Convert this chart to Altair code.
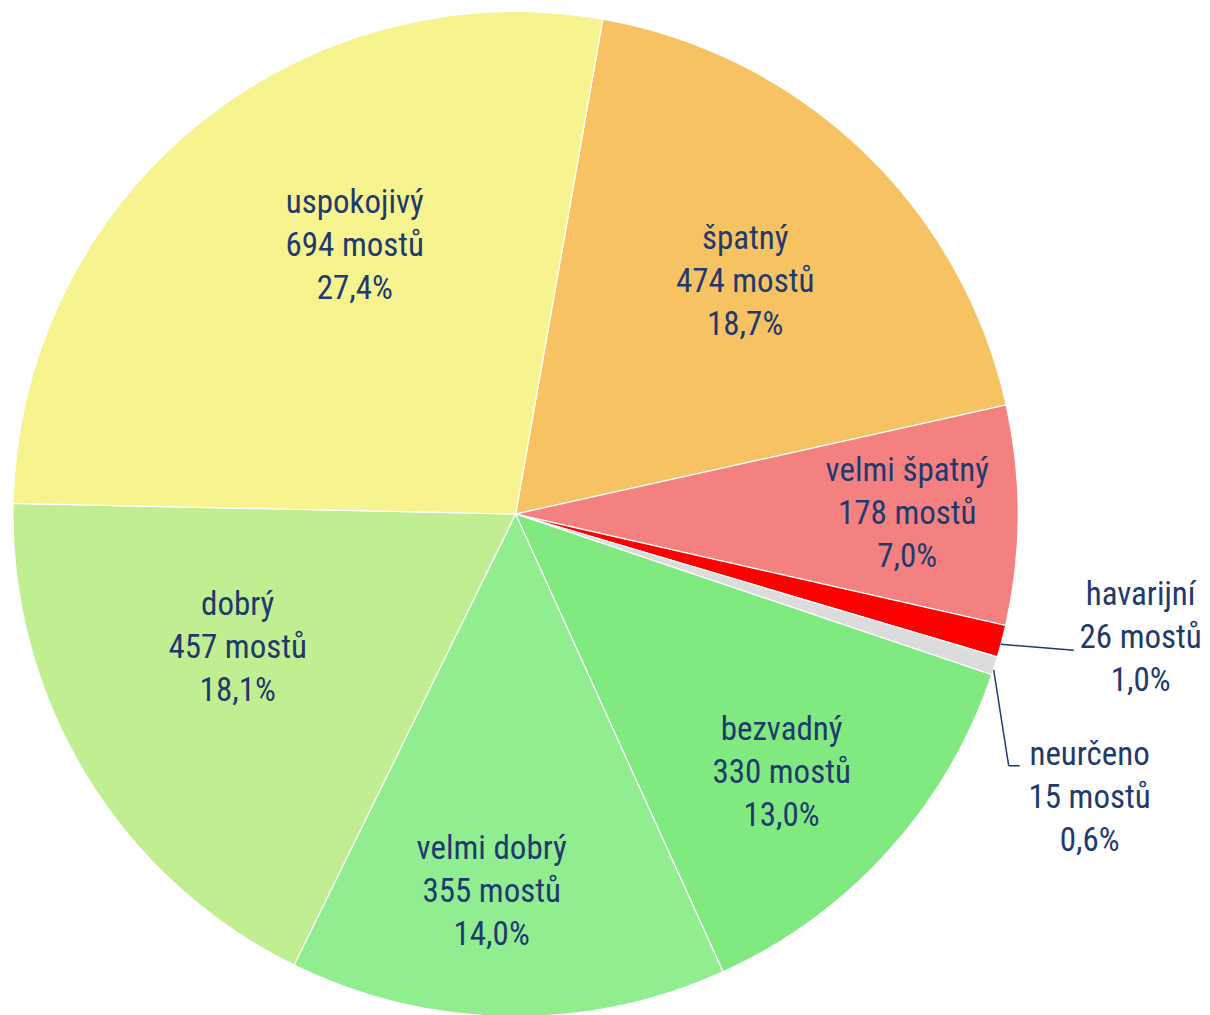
import altair as alt
import numpy as np
import pandas as pd

# ---- data ----
categories = ["špatný", "velmi špatný", "havarijní", "neurčeno",
              "bezvadný", "velmi dobrý", "dobrý", "uspokojivý"]
counts = [474, 178, 26, 15, 330, 355, 457, 694]
percents = ["18,7%", "7,0%", "1,0%", "0,6%", "13,0%", "14,0%", "18,1%", "27,4%"]
colors = ["#F6C262", "#F48080", "#FF0000", "#DCDCDC",
          "#80E980", "#90EE90", "#C1EE91", "#F7F48F"]

# ---- layout / style ----
CX, CY = 508, 505          # pie centre inside the view
R = 503                    # pie radius
START = np.deg2rad(10)     # first slice starts 10° clockwise from 12 o'clock
TXT = "#1F3A6E"
FONT = "Liberation Sans Narrow, Arial Narrow, Roboto Condensed, DejaVu Sans Condensed, sans-serif"
FS = 33
LH = 43

# label placement: (radius along slice mid-angle, dx, dy)
label_pos = {
    "špatný":       (315, 12, -5),
    "velmi špatný": (382, 10, -1),
    "havarijní":    (R, 139, -3),
    "neurčeno":     (R, 95, 132),
    "bezvadný":     (382, -17, 3),
    "velmi dobrý":  (382, -18, -4),
    "dobrý":        (315, -9, -30),
    "uspokojivý":   (315, 39, -25),
}

df = pd.DataFrame({"cat": categories, "count": counts, "pct": percents,
                   "order": list(range(len(categories)))})
total = df["count"].sum()
df["share"] = df["count"] / total
df["label"] = df["cat"] + "\n" + df["count"].astype(str) + " mostů\n" + df["pct"]

# mid angles (same geometry as the theta scale) for leader lines
cum_before = df["share"].cumsum() - df["share"]
mid = START + 2 * np.pi * (cum_before + df["share"] / 2)
edge_x = CX + R * np.sin(mid)
edge_y = CY - R * np.cos(mid)
hx, hy = float(edge_x[2]), float(edge_y[2])
nx, ny = float(edge_x[3]), float(edge_y[3])
leaders = pd.DataFrame({
    "x":  [hx - 1, nx - 1, nx + 14],
    "y":  [hy + 3, ny + 4, ny + 100],
    "x2": [hx + 72, nx + 14, nx + 25],
    "y2": [hy + 9, ny + 100, ny + 100],
})

theta_scale = alt.Scale(range=[START, START + 2 * np.pi])
base = alt.Chart(df).encode(
    theta=alt.Theta("count:Q", stack=True, scale=theta_scale),
    order=alt.Order("order:Q"),
)

arcs = base.mark_arc(outerRadius=R, stroke="white", strokeWidth=1.2).encode(
    color=alt.Color("cat:N", scale=alt.Scale(domain=categories, range=colors), legend=None)
)

text_kw = dict(font=FONT, fontSize=FS, color=TXT, lineBreak="\n", lineHeight=LH,
               align="center", baseline="middle")

text_layers = []
for cat in categories:
    r, dx, dy = label_pos[cat]
    text_layers.append(
        base.transform_calculate(
            t=f"datum.cat == '{cat}' ? datum.label : ''"
        ).mark_text(radius=r, dx=dx, dy=dy - LH, **text_kw).encode(text="t:N")
    )

lines = alt.Chart(leaders).mark_rule(color=TXT, strokeWidth=1.5).encode(
    x=alt.X("x:Q", scale=None, axis=None),
    y=alt.Y("y:Q", scale=None, axis=None),
    x2="x2:Q",
    y2="y2:Q",
)

chart = alt.layer(arcs, *text_layers, lines).properties(
    width=2 * CX, height=2 * CY, padding=0
).configure_view(strokeWidth=0)

chart.save("out.html", embed_options={"renderer": "svg", "actions": False})
